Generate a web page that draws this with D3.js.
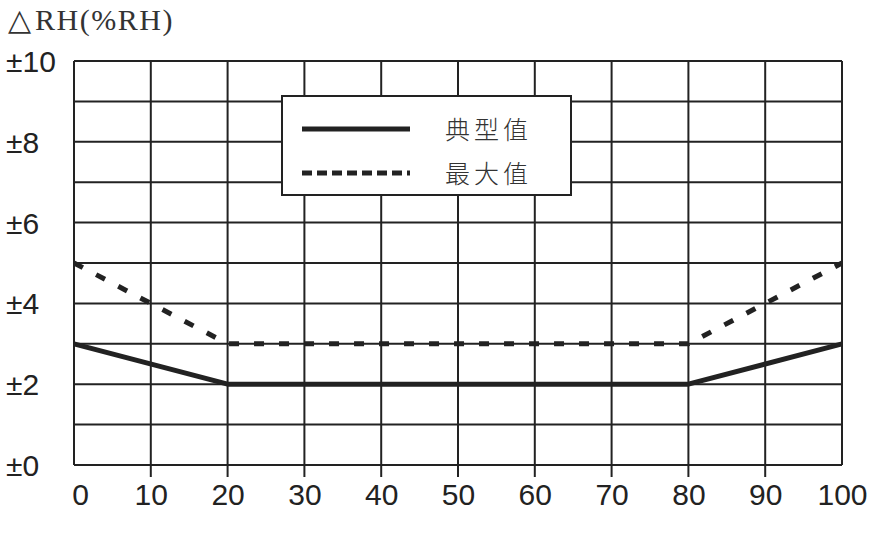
<!DOCTYPE html>
<html>
<head>
<meta charset="utf-8">
<script src="https://cdn.jsdelivr.net/npm/d3@7"></script>
<style>
  body { margin: 0; background: #fff; }
  svg { display: block; }
</style>
</head>
<body>
<script>
// data
const xTicks = [0, 10, 20, 30, 40, 50, 60, 70, 80, 90, 100];
const yGrid = [0, 1, 2, 3, 4, 5, 6, 7, 8, 9, 10];
const yLabels = [0, 2, 4, 6, 8, 10];
const typicalX = [0, 20, 80, 100];
const typicalY = [3, 2, 2, 3];
const maxX = [0, 20, 80, 100];
const maxY = [5, 3, 3, 5];
const seriesNames = ["典型值", "最大值"];
const titleSymbol = "△";
const titleText = "RH(%RH)";

const width = 878, height = 533;
const margin = {top: 61, right: 36, bottom: 68, left: 74};
const ink = "#222";

const svg = d3.select("body").append("svg")
    .attr("width", width)
    .attr("height", height);

const x = d3.scaleLinear([0, 100], [margin.left, width - margin.right]);
const y = d3.scaleLinear([0, 10], [height - margin.bottom, margin.top]);

// grid
svg.append("g")
    .attr("stroke", ink)
    .attr("stroke-width", 2)
    .selectAll("line.h")
    .data(yGrid)
    .join("line")
    .attr("x1", x(0)).attr("x2", x(100))
    .attr("y1", d => y(d)).attr("y2", d => y(d));

svg.append("g")
    .attr("stroke", ink)
    .attr("stroke-width", 2)
    .selectAll("line.v")
    .data(xTicks)
    .join("line")
    .attr("x1", d => x(d)).attr("x2", d => x(d))
    .attr("y1", y(10))
    .attr("y2", d => (d == 0 || d == 100) ? y(0) : y(0) + 12);

// x axis labels
const xAxis = d3.axisBottom(x).tickValues(xTicks).tickSize(0).tickPadding(19);
svg.append("g")
    .attr("transform", `translate(0,${y(0)})`)
    .call(xAxis)
    .call(g => g.select(".domain").remove())
    .call(g => g.selectAll("text")
        .attr("font-family", "Liberation Sans, Arial, sans-serif")
        .attr("font-size", 30)
        .attr("fill", ink))
    .call(g => g.selectAll(".tick").filter(d => d == 0).select("text")
        .attr("dx", 6));

// y axis labels
svg.append("g")
    .selectAll("text")
    .data(yLabels)
    .join("text")
    .attr("x", 6)
    .attr("y", d => y(d) + 3)
    .attr("dominant-baseline", "middle")
    .attr("font-family", "Liberation Sans, Arial, sans-serif")
    .attr("font-size", 30)
    .attr("fill", ink)
    .text(d => "±" + d);

// title
const title = svg.append("text")
    .attr("x", 8)
    .attr("y", 30)
    .attr("font-family", "Liberation Serif, Times New Roman, serif")
    .attr("font-size", 30)
    .attr("fill", "#333");
title.append("tspan")
    .attr("font-family", "DejaVu Sans, sans-serif")
    .attr("font-size", 30)
    .text(titleSymbol);
title.append("tspan")
    .attr("dx", 4)
    .attr("letter-spacing", 1.5)
    .text(titleText);

// curves
const line = d3.line().x(d => x(d[0])).y(d => y(d[1]));
const typical = d3.zip(typicalX, typicalY);
const maximum = d3.zip(maxX, maxY);

svg.append("path")
    .datum(maximum)
    .attr("fill", "none")
    .attr("stroke", ink)
    .attr("stroke-width", 5)
    .attr("stroke-dasharray", "10,15")
    .attr("d", line);

svg.append("path")
    .datum(typical)
    .attr("fill", "none")
    .attr("stroke", ink)
    .attr("stroke-width", 5)
    .attr("stroke-linejoin", "round")
    .attr("d", line);

// legend
const legend = svg.append("g").attr("transform", "translate(282,96)");
legend.append("rect")
    .attr("width", 289)
    .attr("height", 99)
    .attr("fill", "#fff")
    .attr("stroke", ink)
    .attr("stroke-width", 2);

const legendRows = [
    {name: seriesNames[0], dash: null},
    {name: seriesNames[1], dash: "10,5"}
];
legend.selectAll("g.row")
    .data(legendRows)
    .join("g")
    .attr("transform", (d, i) => `translate(0,${33 + i * 44})`)
    .each(function(d) {
        const g = d3.select(this);
        g.append("line")
            .attr("x1", 20).attr("x2", 128)
            .attr("stroke", ink)
            .attr("stroke-width", 5)
            .attr("stroke-dasharray", d.dash);
        g.append("text")
            .attr("x", 163)
            .attr("y", 10)
            .attr("font-family", "Noto Sans CJK SC, sans-serif")
            .attr("font-weight", 300)
            .attr("font-size", 25)
            .attr("letter-spacing", 4)
            .attr("fill", "#333")
            .text(d.name);
    });
</script>
</body>
</html>
